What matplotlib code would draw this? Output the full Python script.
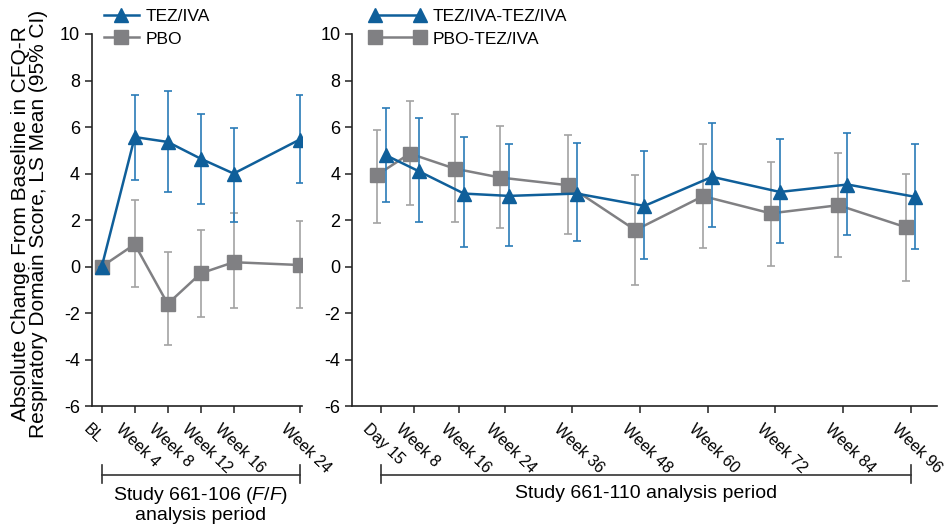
import matplotlib
matplotlib.use("Agg")
import matplotlib.pyplot as plt
from matplotlib.transforms import blended_transform_factory, ScaledTranslation

plt.rcParams['font.family'] = ['Liberation Sans', 'DejaVu Sans']
plt.rcParams['mathtext.fontset'] = 'custom'
plt.rcParams['mathtext.it'] = 'Liberation Sans:italic'
plt.rcParams['mathtext.rm'] = 'Liberation Sans'
plt.rcParams['axes.unicode_minus'] = False

# study 661-106 (left panel)
weeks_106 = [0, 4, 8, 12, 16, 24]
labels_106 = ["BL", "Week 4", "Week 8", "Week 12", "Week 16", "Week 24"]
tez_106 = [0, 5.57, 5.36, 4.64, 4.0, 5.46]
tez_106_lo = [0, 3.71, 3.21, 2.71, 1.9, 3.61]
tez_106_hi = [0, 7.36, 7.57, 6.57, 5.96, 7.36]
pbo_106 = [0, 0.96, -1.6, -0.29, 0.19, 0.07]
pbo_106_lo = [0, -0.86, -3.36, -2.17, -1.79, -1.79]
pbo_106_hi = [0, 2.86, 0.64, 1.57, 2.29, 1.97]

# study 661-110 (right panel), x in weeks (day 15 = 15/7 weeks)
weeks_110 = [15 / 7, 8, 16, 24, 36, 48, 60, 72, 84, 96]
labels_110 = ["Day 15", "Week 8", "Week 16", "Week 24", "Week 36",
              "Week 48", "Week 60", "Week 72", "Week 84", "Week 96"]
tez_110 = [4.79, 4.1, 3.14, 3.04, 3.14, 2.61, 3.86, 3.21, 3.53, 3.0]
tez_110_lo = [2.79, 1.93, 0.86, 0.89, 1.1, 0.31, 1.71, 1.0, 1.36, 0.74]
tez_110_hi = [6.83, 6.4, 5.57, 5.29, 5.33, 4.96, 6.17, 5.5, 5.76, 5.26]
pbo_110 = [3.93, 4.86, 4.21, 3.83, 3.5, 1.57, 3.03, 2.29, 2.64, 1.69]
pbo_110_lo = [1.86, 2.64, 1.93, 1.64, 1.39, -0.79, 0.79, 0.03, 0.4, -0.6]
pbo_110_hi = [5.86, 7.1, 6.56, 6.03, 5.64, 3.93, 5.26, 4.5, 4.89, 4.0]

blue = '#0f5f9a'
blue_err = '#2a7bb8'
grey = '#808083'
grey_err = '#a3a3a3'

fig = plt.figure(figsize=(9.47, 5.31), dpi=100)
ax1 = fig.add_axes([0.097, 0.235, 0.222, 0.701])
ax2 = fig.add_axes([0.372, 0.235, 0.617, 0.701])


def draw(ax, x, y, lo, hi, color, ecolor, marker, label, z):
    yerr = [[a - b for a, b in zip(y, lo)], [b - a for a, b in zip(y, hi)]]
    ax.errorbar(x, y, yerr=yerr, fmt='none', ecolor=ecolor, elinewidth=1.2,
                capsize=3.2, capthick=1.2, zorder=z)
    ax.plot(x, y, color=color, lw=1.8, marker=marker, ms=10, mec=color,
            mfc=color, zorder=z + 1, label=label)


draw(ax1, weeks_106, pbo_106, pbo_106_lo, pbo_106_hi, grey, grey_err, 's', 'PBO', 2)
draw(ax1, weeks_106, tez_106, tez_106_lo, tez_106_hi, blue, blue_err, '^', 'TEZ/IVA', 4)

off = 0.8
draw(ax2, [w - off for w in weeks_110], pbo_110, pbo_110_lo, pbo_110_hi, grey, grey_err, 's', 'PBO-TEZ/IVA', 2)
draw(ax2, [w + off for w in weeks_110], tez_110, tez_110_lo, tez_110_hi, blue, blue_err, '^', 'TEZ/IVA-TEZ/IVA', 4)

ax1.set_xlim(-1.2, 24.3)
ax2.set_xlim(-3.0, 100.6)

shift = ScaledTranslation(-0.11, 0, fig.dpi_scale_trans)
for ax, ticks, labels in [(ax1, weeks_106, labels_106), (ax2, weeks_110, labels_110)]:
    ax.set_ylim(-6, 10)
    ax.set_yticks(range(-6, 11, 2))
    ax.set_xticks(ticks)
    ax.set_xticklabels(labels, rotation=-44, ha='left', va='top',
                       rotation_mode='anchor', fontsize=11.5)
    ax.tick_params(axis='both', direction='out', length=5, width=1.1,
                   labelsize=13, color='#222222')
    ax.tick_params(axis='x', pad=6, labelsize=11.5)
    for lab in ax.get_xticklabels():
        lab.set_transform(lab.get_transform() + shift)
    for s in ['top', 'right']:
        ax.spines[s].set_visible(False)
    for s in ['left', 'bottom']:
        ax.spines[s].set_linewidth(1.2)
        ax.spines[s].set_color('#222222')

# legends (blue series listed first)
h1, l1 = ax1.get_legend_handles_labels()
ax1.legend(h1[::-1], l1[::-1], loc='upper left', bbox_to_anchor=(0.025, 1.085),
           frameon=False, fontsize=12.5, numpoints=1, handlelength=2.0,
           handletextpad=0.4, labelspacing=0.4, borderaxespad=0)
h2, l2 = ax2.get_legend_handles_labels()
ax2.legend(h2[::-1], l2[::-1], loc='upper left', bbox_to_anchor=(0.018, 1.085),
           frameon=False, fontsize=12.5, numpoints=2, handlelength=3.2,
           handletextpad=0.4, labelspacing=0.4, borderaxespad=0)

fig.text(0.031, 0.578,
         "Absolute Change From Baseline in CFQ-R\nRespiratory Domain Score, LS Mean (95% CI)",
         rotation=90, ha='center', va='center', fontsize=15, linespacing=0.95)

# analysis period brackets under the x axes
for ax, x0, x1, txt in [
        (ax1, weeks_106[0], weeks_106[-1], "Study 661-106 ($\\it{F/F}$)\nanalysis period"),
        (ax2, weeks_110[0], weeks_110[-1], "Study 661-110 analysis period")]:
    tr = blended_transform_factory(ax.transData, fig.transFigure)
    ax.plot([x0, x1], [0.1055, 0.1055], color='#333333', lw=1.2, transform=tr, clip_on=False)
    ax.plot([x0, x0], [0.090, 0.124], color='#333333', lw=1.2, transform=tr, clip_on=False)
    ax.plot([x1, x1], [0.090, 0.124], color='#333333', lw=1.2, transform=tr, clip_on=False)
    cx = (x0 + x1) / 2
    ax.text(cx, 0.087, txt, transform=tr, ha='center', va='top', fontsize=14,
            linespacing=1.1)

fig.savefig('out.png', dpi=100)
